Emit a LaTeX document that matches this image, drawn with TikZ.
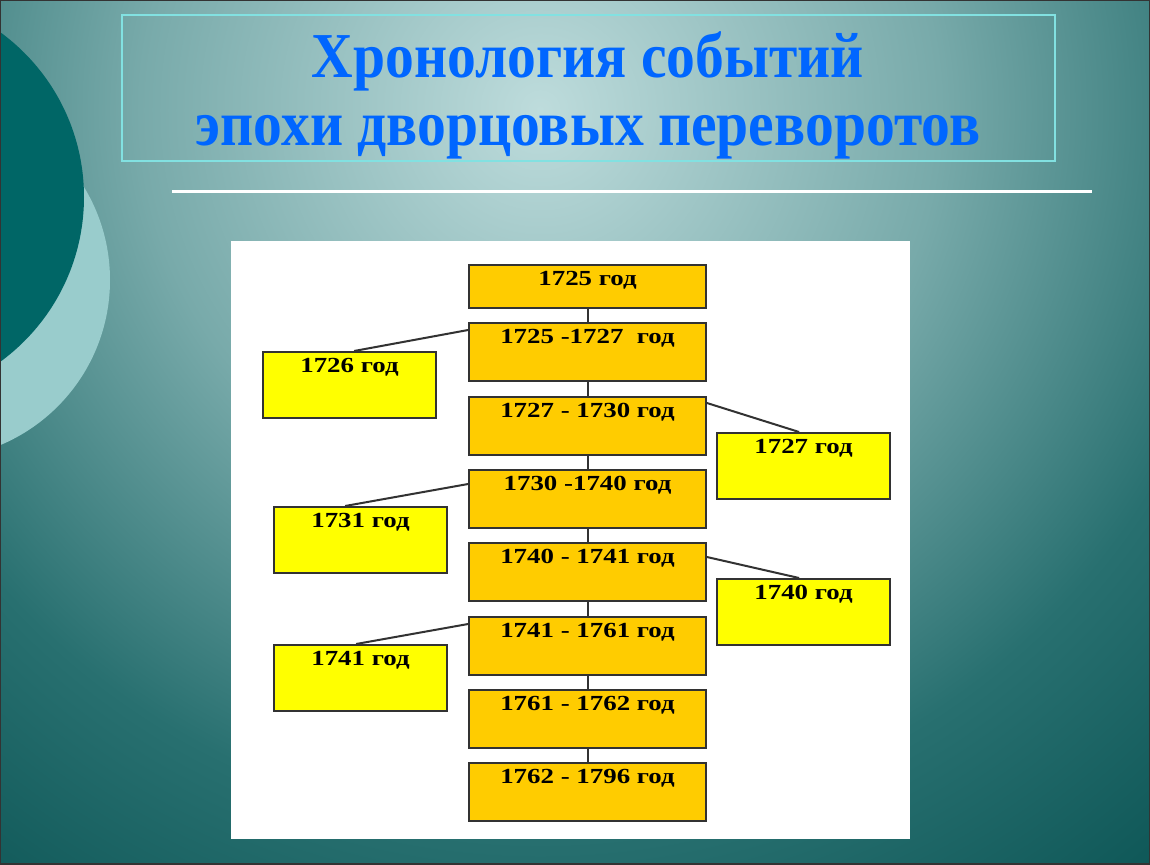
\documentclass[tikz,border=0pt]{standalone}
\usepackage{fontspec}
\setmainfont{Liberation Serif}
\newfontfamily\titlefont[FakeStretch=0.9]{Liberation Serif}
\newfontfamily\yearfont[FakeStretch=1.25]{Liberation Serif}
\usetikzlibrary{calc}

\definecolor{glowin}{RGB}{190,220,220}
\definecolor{glowmid}{RGB}{120,170,170}
\definecolor{glowdark}{RGB}{40,112,112}
\definecolor{glowout}{RGB}{12,85,85}
\definecolor{deepteal}{RGB}{0,102,102}
\definecolor{paleteal}{RGB}{153,204,204}
\definecolor{framecyan}{RGB}{130,225,225}
\definecolor{titleblue}{RGB}{0,102,255}
\definecolor{reignorange}{RGB}{255,204,0}
\definecolor{eventyellow}{RGB}{255,255,0}
\definecolor{boxline}{RGB}{50,50,50}

\pgfdeclareradialshading{slideglow}{\pgfpoint{0bp}{0bp}}{color(0bp)=(glowin); color(10bp)=(glowmid); color(18bp)=(glowdark); color(25bp)=(glowout); color(50bp)=(glowout)}

\tikzset{
  titletext/.style={text=titleblue, font=\titlefont\bfseries\fontsize{64}{70}\selectfont, anchor=base, inner sep=0pt},
  mainbox/.style={draw=boxline, line width=1.8pt, fill=reignorange, anchor=north,
    minimum width=237pt, inner sep=0pt, text height=21pt, text depth=37pt,
    font=\yearfont\bfseries\fontsize{21.5}{23}\selectfont},
  sidebox/.style={mainbox, fill=eventyellow, minimum width=173pt, text depth=45pt},
  link/.style={draw=boxline, line width=2pt}
}

\begin{document}
\begin{tikzpicture}[x=1pt,y=-1pt]
\useasboundingbox (0,0) rectangle (1150,864);
\begin{scope}
  \clip (0,0) rectangle (1150,864);
  \fill[glowout] (0,0) rectangle (1150,864);
  \shade[shading=slideglow] (540,110) circle (1000pt);
  \fill[paleteal] (-69,280) circle (179pt);
  \fill[deepteal] (-120,197) circle (204pt);
\end{scope}
\draw[black!80, line width=2pt] (0,0) rectangle (1150,864);

\draw[framecyan, line width=1.2pt] (122,15) rectangle (1055,161);
\node (title1) at (588,78)[titletext] {Хронология событий};
\node (title2) at (588,145)[titletext] {эпохи дворцовых переворотов};
\draw[white, line width=3pt] (172,191) -- (1092,191);

\fill[white] (231,241) rectangle (910,839);

% main chain of reigns
\node (b1) at (587.5,264)[mainbox, text depth=22pt] {1725 год};
\node (b2) at (587.5,322)[mainbox] {1725 -1727\ \ год};
\node (b3) at (587.5,396)[mainbox] {1727 - 1730 год};
\node (b4) at (587.5,469)[mainbox] {1730 -1740 год};
\node (b5) at (587.5,542)[mainbox] {1740 - 1741 год};
\node (b6) at (587.5,616)[mainbox] {1741 - 1761 год};
\node (b7) at (587.5,689)[mainbox] {1761 - 1762 год};
\node (b8) at (587.5,762)[mainbox] {1762 - 1796 год};

% events beside the chain
\node (s1) at (349.5,351)[sidebox] {1726 год};
\node (s2) at (803.5,432)[sidebox] {1727 год};
\node (s3) at (360.5,506)[sidebox] {1731 год};
\node (s4) at (803.5,578)[sidebox] {1740 год};
\node (s5) at (360.5,644)[sidebox] {1741 год};

\draw[link] (b1.south) -- (b2.north);
\draw[link] (b2.south) -- (b3.north);
\draw[link] (b3.south) -- (b4.north);
\draw[link] (b4.south) -- (b5.north);
\draw[link] (b5.south) -- (b6.north);
\draw[link] (b6.south) -- (b7.north);
\draw[link] (b7.south) -- (b8.north);

\draw[link] ($(b2.north west)+(0,8)$) -- ($(s1.north west)+(92,0)$);
\draw[link] ($(b3.north east)+(0,7)$) -- ($(s2.north west)+(83,0)$);
\draw[link] ($(b4.north west)+(0,15)$) -- ($(s3.north west)+(72,0)$);
\draw[link] ($(b5.north east)+(0,15)$) -- ($(s4.north west)+(83,0)$);
\draw[link] ($(b6.north west)+(0,8)$) -- ($(s5.north west)+(83,0)$);
\end{tikzpicture}
\end{document}
